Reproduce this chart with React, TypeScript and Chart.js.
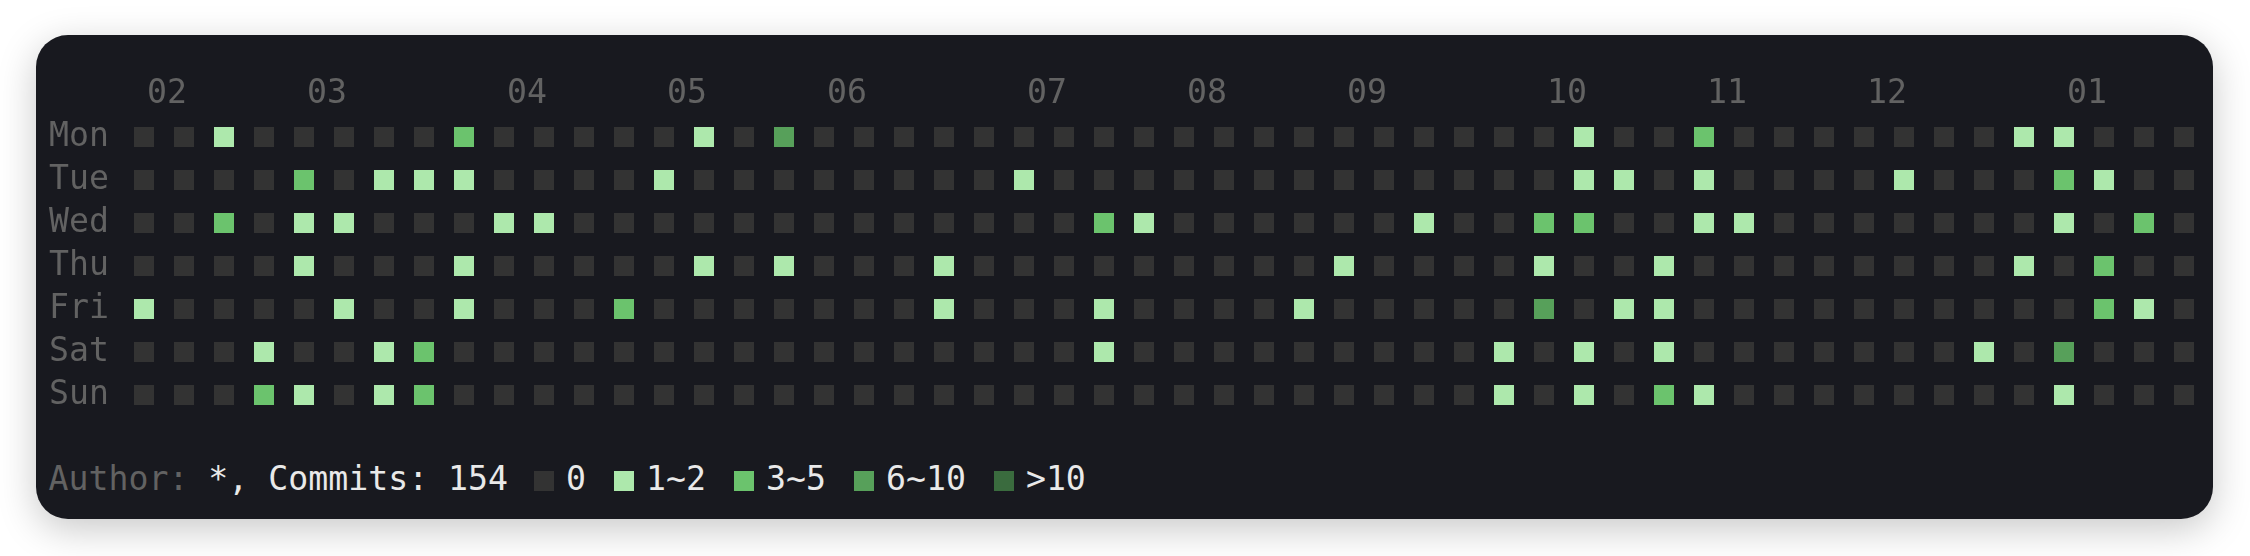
import React, { useEffect, useRef } from 'react';
import { Chart, registerables } from 'chart.js';

Chart.register(...registerables);

// Weekday rows (Mon first), 52 weekly columns, commits per day
const days = ['Mon', 'Tue', 'Wed', 'Thu', 'Fri', 'Sat', 'Sun'];
const monthLabels = ['02', '03', '04', '05', '06', '07', '08', '09', '10', '11', '12', '01'];
const monthWeeks = [0, 4, 9, 13, 17, 22, 26, 30, 35, 39, 43, 48];

const mon = [0,0,2,0,0,0,0,0,3,0, 0,0,0,0,1,0,9,0,0,0, 0,0,0,0,0,0,0,0,0,0, 0,0,0,0,0,0,1,0,0,4, 0,0,0,0,0,0,0,1,2,0, 0,0];
const tue = [0,0,0,0,3,0,1,2,1,0, 0,0,0,1,0,0,0,0,0,0, 0,0,1,0,0,0,0,0,0,0, 0,0,0,0,0,0,1,2,0,1, 0,0,0,0,1,0,0,0,4,2, 0,0];
const wed = [0,0,3,0,1,2,0,0,0,1, 1,0,0,0,0,0,0,0,0,0, 0,0,0,0,3,1,0,0,0,0, 0,0,1,0,0,4,4,0,0,2, 1,0,0,0,0,0,0,0,1,0, 4,0];
const thu = [0,0,0,0,1,0,0,0,2,0, 0,0,0,0,1,0,1,0,0,0, 1,0,0,0,0,0,0,0,0,0, 1,0,0,0,0,2,0,0,1,0, 0,0,0,0,0,0,0,1,0,3, 0,0];
const fri = [1,0,0,0,0,1,0,0,1,0, 0,0,3,0,0,0,0,0,0,0, 2,0,0,0,1,0,0,0,0,1, 0,0,0,0,0,10,0,1,2,0, 0,0,0,0,0,0,0,0,0,4, 1,0];
const sat = [0,0,0,1,0,0,2,3,0,0, 0,0,0,0,0,0,0,0,0,0, 0,0,0,0,1,0,0,0,0,0, 0,0,0,0,1,0,2,0,1,0, 0,0,0,0,0,0,1,0,9,0, 0,0];
const sun = [0,0,0,3,2,0,1,4,0,0, 0,0,0,0,0,0,0,0,0,0, 0,0,0,0,0,0,0,0,0,0, 0,0,0,0,1,0,2,0,4,1, 0,0,0,0,0,0,0,0,1,0, 0,0];

const levelLabels = ['0', '1~2', '3~5', '6~10', '>10'];
const levelColors = ['#333333', '#ade8ac', '#6bc36d', '#57a05a', '#3a6b3e'];
const author = '*';
const totalCommits = 154;

const FONT = '"DejaVu Sans Mono", "Liberation Mono", monospace';
const FONT_SIZE = 33.2;
const DIM = '#626262';
const BRIGHT = '#e9e9e9';

function levelOf(v: number): number {
  if (!v) return 0;
  if (v <= 2) return 1;
  if (v <= 5) return 2;
  if (v <= 10) return 3;
  return 4;
}

export default function App() {
  const ref = useRef<HTMLCanvasElement>(null);

  useEffect(() => {
    const rows = [mon, tue, wed, thu, fri, sat, sun];
    const points: { x: number; y: number; v: number }[] = [];
    rows.forEach((row, d) => row.forEach((v, w) => points.push({ x: w, y: d, v })));

    const chart = new Chart(ref.current as HTMLCanvasElement, {
      type: 'scatter',
      data: {
        datasets: [
          {
            data: points as any,
            pointStyle: 'rect',
            pointRadius: 10 * Math.SQRT2,
            pointHoverRadius: 10 * Math.SQRT2,
            borderWidth: 0,
            backgroundColor: (ctx: any) => levelColors[levelOf(ctx.raw ? ctx.raw.v : 0)],
          },
        ],
      },
      options: {
        animation: false,
        responsive: false,
        events: [],
        layout: { autoPadding: false, padding: { left: 13, right: 9, top: 0, bottom: 8.5 } },
        plugins: { legend: { display: false }, tooltip: { enabled: false } },
        scales: {
          x: {
            type: 'linear',
            position: 'top',
            min: -0.5,
            max: 51.5,
            grid: { display: false, drawTicks: false },
            border: { display: false },
            afterBuildTicks: (s: any) => {
              s.ticks = monthWeeks.map((v) => ({ value: v }));
            },
            afterFit: (s: any) => {
              s.height = 80.5;
              s.paddingLeft = 0;
              s.paddingRight = 0;
              s.paddingTop = 0;
              s.paddingBottom = 0;
            },
            ticks: {
              autoSkip: false,
              maxRotation: 0,
              minRotation: 0,
              labelOffset: 23,
              padding: 5,
              color: DIM,
              font: { family: FONT, size: FONT_SIZE, lineHeight: 1 },
              callback: (_v: any, i: number) => monthLabels[i],
            },
          },
          y: {
            type: 'linear',
            reverse: true,
            min: -0.5,
            max: 6.5,
            grid: { display: false, drawTicks: false },
            border: { display: false },
            afterBuildTicks: (s: any) => {
              s.ticks = days.map((_, i) => ({ value: i }));
            },
            afterFit: (s: any) => {
              s.width = 75;
              s.paddingLeft = 0;
              s.paddingRight = 0;
              s.paddingTop = 0;
              s.paddingBottom = 0;
            },
            ticks: {
              autoSkip: false,
              crossAlign: 'far',
              padding: 0,
              color: DIM,
              font: { family: FONT, size: FONT_SIZE, lineHeight: 1 },
              callback: (_v: any, i: number) => days[i],
            },
          },
        },
      } as any,
    });
    return () => chart.destroy();
  }, []);

  return (
    <div
      style={{
        position: 'absolute',
        left: 36,
        top: 35,
        width: 2177,
        height: 484,
        borderRadius: 32,
        background: '#18191f',
        boxShadow: '0 10px 38px rgba(0,0,0,0.22)',
        overflow: 'hidden',
      }}
    >
      <canvas ref={ref} width={2177} height={390} style={{ position: 'absolute', left: 0, top: 0 }} />
      <div
        style={{
          position: 'absolute',
          left: 12.5,
          top: 424,
          height: 40,
          display: 'flex',
          alignItems: 'center',
          fontFamily: FONT,
          fontSize: FONT_SIZE,
          whiteSpace: 'pre',
          lineHeight: '40px',
        }}
      >
        <span style={{ color: DIM }}>Author:</span>
        <span style={{ color: BRIGHT }}>{` ${author}, Commits: ${totalCommits}`}</span>
        {levelLabels.map((lab, i) => (
          <React.Fragment key={lab}>
            <span
              style={{
                display: 'inline-block',
                width: 20,
                height: 20,
                background: levelColors[i],
                marginLeft: i === 0 ? 26 : 28,
                position: 'relative',
                top: 2,
              }}
            />
            <span style={{ color: BRIGHT, marginLeft: 12 }}>{lab}</span>
          </React.Fragment>
        ))}
      </div>
    </div>
  );
}
